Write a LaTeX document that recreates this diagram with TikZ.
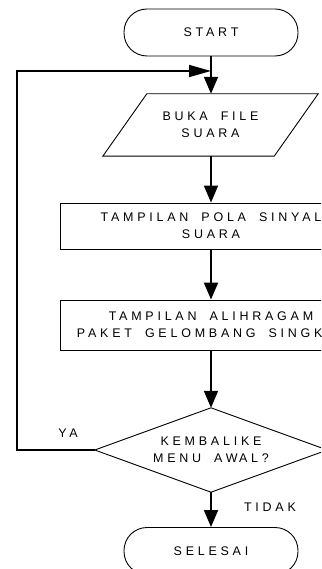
\documentclass[tikz,border=0pt]{standalone}
\usepackage{fontspec}
\setmainfont{Liberation Sans}
\newfontfamily\labfont[LetterSpace=30,WordSpace=1.8]{Liberation Sans}
\usetikzlibrary{arrows.meta}
\tikzset{
  lbl/.style={font=\labfont\fontsize{12.5}{17}\selectfont, align=center, inner sep=0pt},
  term/.style={lbl, draw, line width=0.9pt, rounded corners=23pt, minimum width=174pt, minimum height=47pt},
  boxnode/.style={lbl, draw, line width=0.9pt, minimum width=302pt},
  plain/.style={lbl},
  flow/.style={line width=1.7pt, -{Triangle[length=17pt,width=14pt]}},
  loopflow/.style={line width=1.7pt, -{Triangle[length=22pt,width=12pt]}},
  shapeline/.style={line width=0.9pt}
}
\begin{document}
\begin{tikzpicture}[x=1pt,y=-1pt]
\useasboundingbox (0,0) rectangle (321,569);
\clip (0,0) rectangle (321,569);
\node[term] (start) at (211,32.5) {START};
\node[plain, minimum width=215pt, minimum height=62pt] (buka) at (210.5,125) {BUKA FILE\\SUARA};
\draw[shapeline] ([xshift=44pt]buka.north west) -- (buka.north east) -- ([xshift=-44pt]buka.south east) -- (buka.south west) -- cycle;
\node[boxnode, minimum height=46pt] (pola) at (211,226) {TAMPILAN POLA SINYAL\\SUARA};
\node[boxnode, minimum height=50pt] (alih) at (211,325) {TAMPILAN ALIHRAGAM\\PAKET GELOMBANG SINGKAT};
\node[plain, minimum width=232pt, minimum height=84pt] (dec) at (211,450) {KEMBALIKE\\MENU AW\kern1.5pt AL?};
\draw[shapeline] (dec.north) -- (dec.east) -- (dec.south) -- (dec.west) -- cycle;
\node[term] (end) at (211,551) {SELESAI};
\node[plain] (ya) at (68,433) {YA};
\node[plain] (tidak) at (270,507) {TIDAK};
\coordinate (join) at (211,71);
\coordinate (c1) at (17,450);
\coordinate (c2) at (17,71);
\draw[flow] (start.south) -- (buka.north -| start.south);
\draw[loopflow] (dec.west) -- (c1) -- (c2) -- (join);
\draw[flow] (buka.south -| start.south) -- (pola.north);
\draw[flow] (pola.south) -- (alih.north);
\draw[flow] (alih.south) -- (dec.north);
\draw[flow] (dec.south) -- (end.north);
\end{tikzpicture}
\end{document}
